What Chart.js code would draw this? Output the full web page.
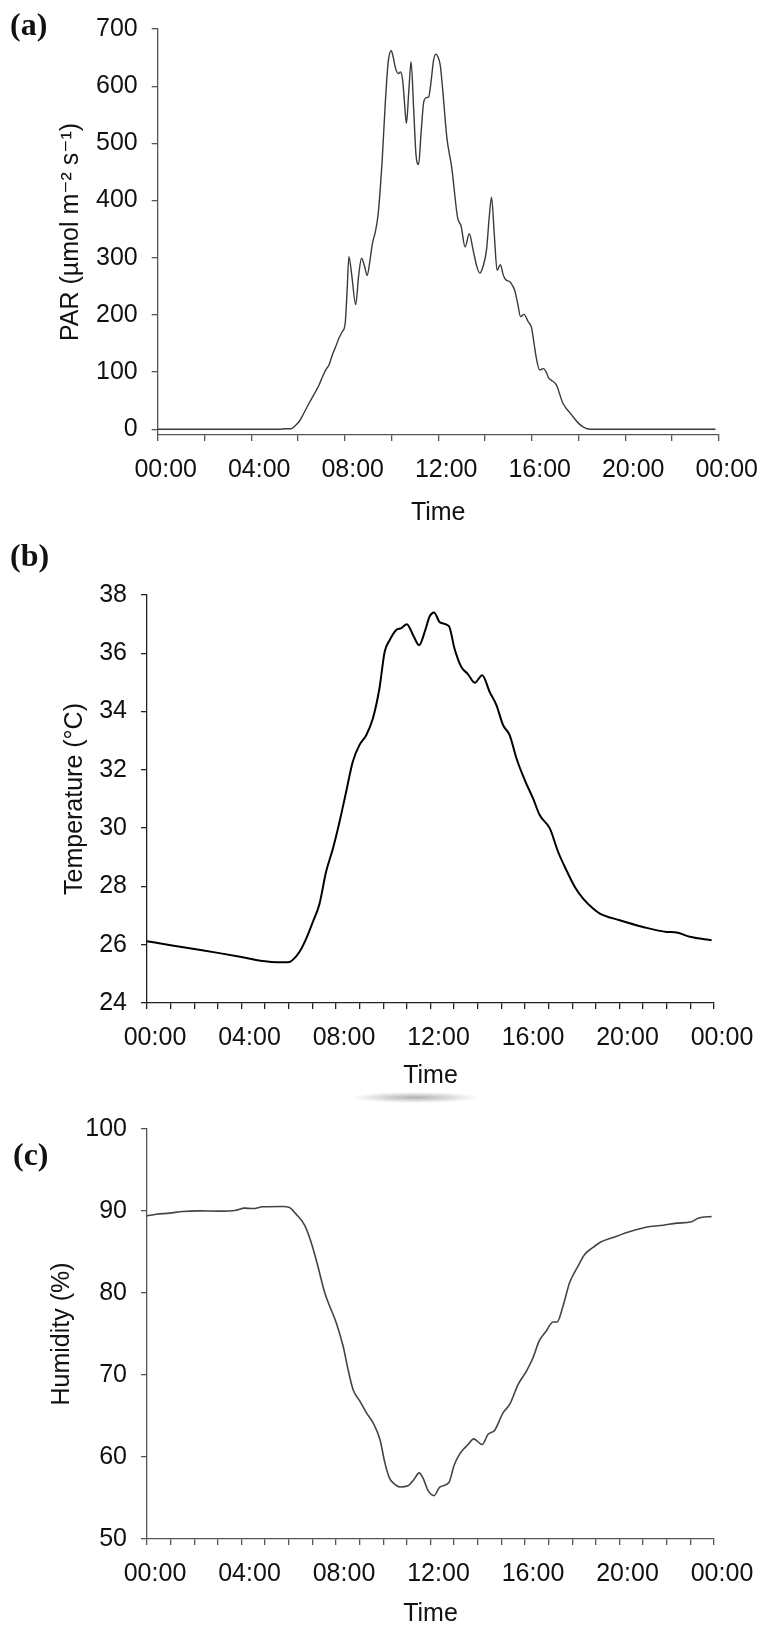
<!DOCTYPE html>
<html>
<head>
<meta charset="utf-8">
<script src="https://cdn.jsdelivr.net/npm/chart.js@4.4.1/dist/chart.umd.min.js"></script>
<style>
  body { margin: 0; background: #fff; }
  #page { position: relative; width: 764px; height: 1629px; overflow: hidden; }
  canvas { position: absolute; left: 0; }
  .plabel { position: absolute; font: bold 32px "Liberation Serif", "Times New Roman", serif; line-height: 1; color: #111; }
  #smudge { position: absolute; left: 350px; top: 1092px; width: 130px; height: 11px;
    background: radial-gradient(ellipse at center, rgba(100,100,100,0.5), rgba(255,255,255,0) 70%); }
</style>
</head>
<body>
<div id="page">
  <div id="smudge"></div>
  <canvas id="parchart" width="764" height="530" style="top:0px"></canvas>
  <canvas id="tempchart" width="764" height="565" style="top:530px"></canvas>
  <canvas id="humchart" width="764" height="534" style="top:1095px"></canvas>
  <div class="plabel" style="left:10px; top:8px">(a)</div>
  <div class="plabel" style="left:10px; top:539px">(b)</div>
  <div class="plabel" style="left:13px; top:1138px">(c)</div>
</div>
<script>
// time of day in hours
const tickLabels = ["00:00", "04:00", "08:00", "12:00", "16:00", "20:00", "00:00"];

const parHours = [0, 2, 4, 5.2, 5.45, 5.7, 5.85, 6.06, 6.25, 6.48, 6.7, 6.91, 7.05, 7.19, 7.33, 7.47, 7.62, 7.76, 7.9, 8.02, 8.1, 8.18, 8.3, 8.47, 8.6, 8.72, 8.85, 8.96, 9.08, 9.18, 9.32, 9.43, 9.52, 9.6, 9.74, 9.86, 9.99, 10.08, 10.17, 10.3, 10.38, 10.48, 10.56, 10.64, 10.74, 10.84, 10.95, 11.05, 11.16, 11.27, 11.38, 11.5, 11.59, 11.7, 11.8, 11.9, 12.0, 12.09, 12.2, 12.37, 12.58, 12.83, 12.98, 13.15, 13.33, 13.5, 13.65, 13.78, 13.92, 14.07, 14.18, 14.28, 14.4, 14.52, 14.66, 14.78, 14.88, 15.09, 15.27, 15.4, 15.52, 15.67, 15.85, 15.99, 16.1, 16.2, 16.34, 16.5, 16.62, 16.72, 16.83, 17.05, 17.33, 17.69, 18.04, 18.3, 18.54, 20, 22, 23.86];
const parValues = [0, 0, 0, 0, 1, 1, 5, 14, 28, 46, 62, 78, 92, 104, 113, 130, 145, 160, 171, 185, 240, 302, 270, 218, 270, 299, 285, 269, 295, 324, 347, 376, 420, 468, 573, 642, 662, 650, 632, 622, 625, 610, 570, 535, 590, 643, 560, 480, 463, 520, 572, 580, 581, 610, 645, 656, 650, 636, 590, 510, 457, 370, 355, 319, 342, 312, 285, 273, 285, 315, 370, 406, 340, 278, 288, 270, 262, 257, 243, 220, 197, 201, 188, 178, 150, 124, 104, 106, 100, 90, 86, 78, 46, 26, 9, 2, 0, 0, 0, 0];

const tempHours = [0, 1, 2, 3, 4, 5, 5.5, 6.03, 6.17, 6.45, 6.74, 7.02, 7.3, 7.58, 7.87, 8.15, 8.43, 8.71, 8.99, 9.28, 9.56, 9.84, 10.06, 10.27, 10.55, 10.76, 11.0, 11.26, 11.52, 11.78, 11.96, 12.15, 12.4, 12.78, 13.02, 13.3, 13.59, 13.87, 14.19, 14.5, 14.79, 15.07, 15.35, 15.64, 15.99, 16.34, 16.62, 17.05, 17.4, 17.75, 18.11, 18.46, 18.88, 19.17, 20.01, 21, 22, 22.42, 22.98, 23.9];
const tempValues = [26.12, 25.98, 25.85, 25.72, 25.58, 25.43, 25.4, 25.41, 25.48, 25.75, 26.21, 26.78, 27.4, 28.5, 29.3, 30.22, 31.25, 32.28, 32.85, 33.19, 33.76, 34.8, 36.05, 36.45, 36.8, 36.86, 37.0, 36.63, 36.28, 36.8, 37.26, 37.4, 37.06, 36.93, 36.15, 35.54, 35.28, 34.99, 35.25, 34.68, 34.22, 33.54, 33.19, 32.39, 31.65, 31.02, 30.45, 29.99, 29.19, 28.56, 27.98, 27.58, 27.24, 27.07, 26.84, 26.61, 26.44, 26.42, 26.27, 26.15];

const humHours = [0, 0.4, 0.96, 1.5, 2.22, 3.07, 3.77, 4.12, 4.48, 4.9, 5.75, 6.03, 6.31, 6.67, 6.95, 7.23, 7.52, 7.73, 8.01, 8.3, 8.51, 8.72, 9.01, 9.29, 9.57, 9.86, 10.07, 10.26, 10.42, 10.71, 11.05, 11.3, 11.52, 11.68, 11.9, 12.15, 12.39, 12.78, 13.0, 13.2, 13.38, 13.59, 13.83, 14.19, 14.43, 14.72, 15.07, 15.35, 15.71, 16.06, 16.34, 16.6, 16.9, 17.19, 17.36, 17.61, 17.89, 18.25, 18.53, 18.88, 19.17, 19.73, 20.45, 21.29, 21.85, 22.42, 23.05, 23.33, 23.9];
const humValues = [89.41, 89.6, 89.74, 89.94, 90.02, 89.98, 90.1, 90.35, 90.3, 90.51, 90.55, 90.43, 89.62, 88.27, 86.16, 83.3, 80.05, 78.42, 76.38, 73.53, 70.68, 68.24, 66.82, 65.39, 64.17, 62.13, 59.28, 57.45, 56.84, 56.35, 56.5, 57.25, 58.06, 57.45, 55.9, 55.29, 56.33, 56.9, 59.0, 60.2, 60.91, 61.52, 62.21, 61.52, 62.74, 63.27, 65.39, 66.41, 68.85, 70.48, 72.11, 74.15, 75.37, 76.47, 76.47, 78.42, 81.27, 83.31, 84.73, 85.55, 86.16, 86.77, 87.5, 88.11, 88.27, 88.52, 88.68, 89.13, 89.33];

const FONT = "'Liberation Sans', Arial, 'DejaVu Sans', sans-serif";
const FSIZE = 25;

function points(xs, ys) {
    const pts = [];
    for (let i = 0; i < xs.length; i++) {
        pts.push({ x: xs[i], y: ys[i] });
    }
    return pts;
}

function makeChart(id, cfg) {
    const ctx = document.getElementById(id);
    return new Chart(ctx, {
        type: 'line',
        data: {
            datasets: [{
                data: points(cfg.hours, cfg.values),
                borderColor: cfg.lineColor,
                borderWidth: cfg.lineWidth,
                pointRadius: 0,
                fill: false,
                cubicInterpolationMode: 'monotone'
            }]
        },
        options: {
            responsive: false,
            animation: false,
            events: [],
            layout: { padding: { left: 0, right: cfg.padRight, top: cfg.padTop, bottom: 0 } },
            plugins: { legend: { display: false }, tooltip: { enabled: false } },
            scales: {
                x: {
                    type: 'linear',
                    min: 0,
                    max: 24,
                    afterFit: (s) => { s.height = cfg.xHeight; },
                    border: { display: true, color: cfg.axisColor, width: 1.3 },
                    grid: { drawOnChartArea: false, drawTicks: true, tickLength: 6, color: cfg.axisColor, lineWidth: 1.3 },
                    ticks: {
                        stepSize: cfg.xStep,
                        autoSkip: false,
                        maxRotation: 0,
                        padding: 14,
                        labelOffset: 8,
                        color: '#111',
                        font: { family: FONT, size: FSIZE },
                        callback: (v) => (v % 4 === 0 ? tickLabels[v / 4] : '')
                    },
                    title: {
                        display: true,
                        text: 'Time',
                        color: '#111',
                        font: { family: FONT, size: FSIZE },
                        padding: { top: 0, bottom: cfg.timePad }
                    }
                },
                y: {
                    min: cfg.yMin,
                    max: cfg.yMax,
                    afterFit: (s) => { s.width = cfg.yWidth; },
                    afterBuildTicks: (s) => {
                        const t = [];
                        for (let v = cfg.firstTick; v <= cfg.yMax; v += cfg.yStep) t.push({ value: v });
                        s.ticks = t;
                    },
                    border: { display: true, color: cfg.axisColor, width: 1.3 },
                    grid: { drawOnChartArea: false, drawTicks: true, tickLength: 6, color: cfg.axisColor, lineWidth: 1.3 },
                    ticks: {
                        padding: 14,
                        color: '#111',
                        font: { family: FONT, size: FSIZE }
                    },
                    title: {
                        display: true,
                        text: cfg.yTitle,
                        color: '#111',
                        font: { family: FONT, size: FSIZE },
                        padding: { top: cfg.yTitlePad, bottom: 0 }
                    }
                }
            }
        }
    });
}

window.onload = () => {
    makeChart('parchart', {
        hours: parHours, values: parValues,
        lineColor: '#3a3a3a', lineWidth: 1.4, axisColor: '#555',
        yMin: -10, yMax: 700, yStep: 100, firstTick: 0, xStep: 2,
        yTitle: 'PAR (µmol m⁻² s⁻¹)', yTitlePad: 56,
        yWidth: 157.7, padRight: 42.3, padTop: 25, xHeight: 95, timePad: 2
    });
    makeChart('tempchart', {
        hours: tempHours, values: tempValues,
        lineColor: '#000', lineWidth: 2, axisColor: '#222',
        yMin: 24, yMax: 38, yStep: 2, firstTick: 24, xStep: 1,
        yTitle: 'Temperature (°C)', yTitlePad: 60,
        yWidth: 147, padRight: 50, padTop: 65, xHeight: 92, timePad: 4
    });
    makeChart('humchart', {
        hours: humHours, values: humValues,
        lineColor: '#444', lineWidth: 1.6, axisColor: '#555',
        yMin: 50, yMax: 100, yStep: 10, firstTick: 50, xStep: 1,
        yTitle: 'Humidity (%)', yTitlePad: 47,
        yWidth: 147, padRight: 50, padTop: 34, xHeight: 90, timePad: 0
    });
};
</script>
</body>
</html>
